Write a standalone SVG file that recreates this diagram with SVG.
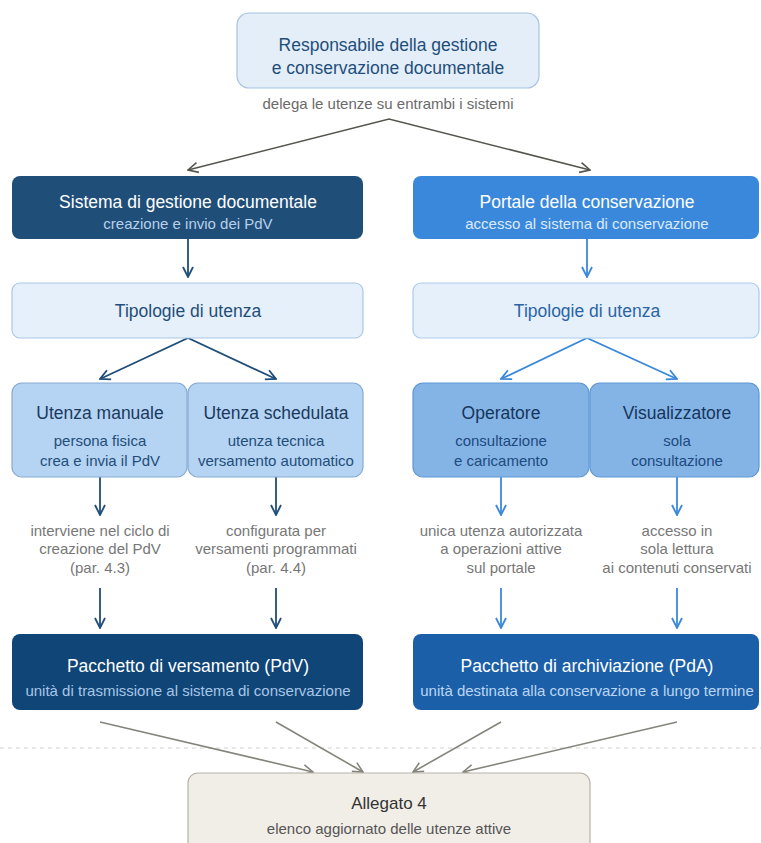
<svg xmlns="http://www.w3.org/2000/svg" width="761" height="843" viewBox="0 0 761 843">
<defs>
<style>
text{font-family:"Liberation Sans",Arial,sans-serif;text-anchor:middle;dominant-baseline:central}
.t16{font-size:17.5px}
.t17{font-size:17.5px}
.s13{font-size:15px}
.s14{font-size:15px}
.note{font-size:15px;fill:#777}
.wh{fill:#ffffff}
</style>
<marker id="aDark" viewBox="0 0 12 12" refX="11" refY="6" markerWidth="12" markerHeight="12" markerUnits="userSpaceOnUse" orient="auto-start-reverse"><path d="M1,1 L11,6 L1,11" fill="none" stroke="#1f4e79" stroke-width="1.8"/></marker>
<marker id="aBlue" viewBox="0 0 12 12" refX="11" refY="6" markerWidth="12" markerHeight="12" markerUnits="userSpaceOnUse" orient="auto-start-reverse"><path d="M1,1 L11,6 L1,11" fill="none" stroke="#3a88db" stroke-width="1.8"/></marker>
<marker id="aGray" viewBox="0 0 12 12" refX="11" refY="6" markerWidth="12" markerHeight="12" markerUnits="userSpaceOnUse" orient="auto-start-reverse"><path d="M1,1 L11,6 L1,11" fill="none" stroke="#55554f" stroke-width="1.6"/></marker>
<marker id="aTan" viewBox="0 0 12 12" refX="11" refY="6" markerWidth="12" markerHeight="12" markerUnits="userSpaceOnUse" orient="auto-start-reverse"><path d="M1,1 L11,6 L1,11" fill="none" stroke="#85847c" stroke-width="1.6"/></marker>
</defs>
<rect width="761" height="843" fill="#ffffff"/>

<line x1="0" y1="748" x2="761" y2="748" stroke="#d2d2d2" stroke-width="1" stroke-dasharray="4,4"/>

<g id="connectors" fill="none">
<polyline points="188,170 389,119 590,170" stroke="#55554f" stroke-width="1.6" marker-start="url(#aGray)" marker-end="url(#aGray)"/>
<line x1="188" y1="239" x2="188" y2="277" stroke="#1f4e79" stroke-width="1.8" marker-end="url(#aDark)"/>
<line x1="587" y1="239" x2="587" y2="277" stroke="#3a88db" stroke-width="1.8" marker-end="url(#aBlue)"/>
<polyline points="100,379 188,338 276,379" stroke="#1f4e79" stroke-width="1.8" marker-start="url(#aDark)" marker-end="url(#aDark)"/>
<polyline points="501,379 587,338 677,379" stroke="#3a88db" stroke-width="1.8" marker-start="url(#aBlue)" marker-end="url(#aBlue)"/>
<line x1="100" y1="477" x2="100" y2="515" stroke="#1f4e79" stroke-width="1.8" marker-end="url(#aDark)"/>
<line x1="276" y1="477" x2="276" y2="515" stroke="#1f4e79" stroke-width="1.8" marker-end="url(#aDark)"/>
<line x1="501" y1="477" x2="501" y2="515" stroke="#3a88db" stroke-width="1.8" marker-end="url(#aBlue)"/>
<line x1="677" y1="477" x2="677" y2="515" stroke="#3a88db" stroke-width="1.8" marker-end="url(#aBlue)"/>
<line x1="100" y1="588" x2="100" y2="628" stroke="#1f4e79" stroke-width="1.8" marker-end="url(#aDark)"/>
<line x1="276" y1="588" x2="276" y2="628" stroke="#1f4e79" stroke-width="1.8" marker-end="url(#aDark)"/>
<line x1="501" y1="588" x2="501" y2="628" stroke="#3a88db" stroke-width="1.8" marker-end="url(#aBlue)"/>
<line x1="677" y1="588" x2="677" y2="628" stroke="#3a88db" stroke-width="1.8" marker-end="url(#aBlue)"/>
<line x1="100" y1="722" x2="313" y2="772" stroke="#85847c" stroke-width="1.6" marker-end="url(#aTan)"/>
<line x1="276" y1="722" x2="363" y2="772" stroke="#85847c" stroke-width="1.6" marker-end="url(#aTan)"/>
<line x1="501" y1="722" x2="413" y2="772" stroke="#85847c" stroke-width="1.6" marker-end="url(#aTan)"/>
<line x1="677" y1="722" x2="463" y2="772" stroke="#85847c" stroke-width="1.6" marker-end="url(#aTan)"/>
</g>

<g id="responsabile">
<rect x="237" y="13" width="302" height="75" rx="12" fill="#e4eef9" stroke="#a6c3e2" stroke-width="1.2"/>
<text x="388" y="45" class="t16" fill="#1f4e79">Responsabile della gestione</text>
<text x="388" y="68" class="t16" fill="#1f4e79">e conservazione documentale</text>
<text x="388" y="103" class="s13" fill="#6a6a6a">delega le utenze su entrambi i sistemi</text>
</g>

<g id="sistema">
<rect x="12" y="176" width="351" height="63" rx="8" fill="#1f4e79"/>
<text x="188" y="202" class="t16 wh">Sistema di gestione documentale</text>
<text x="188" y="223" class="s13" fill="#b8d0ea">creazione e invio dei PdV</text>
</g>

<g id="portale">
<rect x="413" y="176" width="346" height="63" rx="8" fill="#3a88db"/>
<text x="587" y="202" class="t16 wh">Portale della conservazione</text>
<text x="587" y="223" class="s13" fill="#dce9f8">accesso al sistema di conservazione</text>
</g>

<g id="tipologie-sx">
<rect x="12" y="283" width="351" height="55" rx="8" fill="#e6f0fa" stroke="#a9c7e7" stroke-width="1.2"/>
<text x="188" y="311" class="t16" fill="#1f4e79">Tipologie di utenza</text>
</g>

<g id="tipologie-dx">
<rect x="413" y="283" width="346" height="55" rx="8" fill="#e6f0fb" stroke="#a9cbee" stroke-width="1.2"/>
<text x="587" y="311" class="t16" fill="#2a64a6">Tipologie di utenza</text>
</g>

<g id="utenza-manuale">
<rect x="12" y="383" width="175" height="94" rx="10" fill="#b5d3f2" stroke="#86abd3" stroke-width="1.2"/>
<text x="100" y="413" class="t17" fill="#1a3a60">Utenza manuale</text>
<text x="100" y="440" class="s14" fill="#1f4e79">persona fisica</text>
<text x="100" y="460" class="s14" fill="#1f4e79">crea e invia il PdV</text>
</g>

<g id="utenza-schedulata">
<rect x="188" y="383" width="175" height="94" rx="10" fill="#b5d3f2" stroke="#86abd3" stroke-width="1.2"/>
<text x="276" y="413" class="t17" fill="#1a3a60">Utenza schedulata</text>
<text x="276" y="440" class="s14" fill="#1f4e79">utenza tecnica</text>
<text x="276" y="460" class="s14" fill="#1f4e79">versamento automatico</text>
</g>

<g id="operatore">
<rect x="413" y="383" width="176" height="94" rx="10" fill="#84b4e6" stroke="#5e97d4" stroke-width="1.2"/>
<text x="501" y="413" class="t17" fill="#16355c">Operatore</text>
<text x="501" y="440" class="s14" fill="#1e4a7e">consultazione</text>
<text x="501" y="460" class="s14" fill="#1e4a7e">e caricamento</text>
</g>

<g id="visualizzatore">
<rect x="590" y="383" width="169" height="94" rx="10" fill="#84b4e6" stroke="#5e97d4" stroke-width="1.2"/>
<text x="677" y="413" class="t17" fill="#16355c">Visualizzatore</text>
<text x="677" y="440" class="s14" fill="#1e4a7e">sola</text>
<text x="677" y="460" class="s14" fill="#1e4a7e">consultazione</text>
</g>

<g id="nota-manuale">
<text x="100" y="530" class="note">interviene nel ciclo di</text>
<text x="100" y="548" class="note">creazione del PdV</text>
<text x="100" y="567" class="note">(par. 4.3)</text>
</g>
<g id="nota-schedulata">
<text x="276" y="530" class="note">configurata per</text>
<text x="276" y="548" class="note">versamenti programmati</text>
<text x="276" y="567" class="note">(par. 4.4)</text>
</g>
<g id="nota-operatore">
<text x="501" y="530" class="note">unica utenza autorizzata</text>
<text x="501" y="548" class="note">a operazioni attive</text>
<text x="501" y="567" class="note">sul portale</text>
</g>
<g id="nota-visualizzatore">
<text x="677" y="530" class="note">accesso in</text>
<text x="677" y="548" class="note">sola lettura</text>
<text x="677" y="567" class="note">ai contenuti conservati</text>
</g>

<g id="pdv">
<rect x="12" y="634" width="351" height="76" rx="8" fill="#0f4577"/>
<text x="188" y="666" class="t17 wh">Pacchetto di versamento (PdV)</text>
<text x="188" y="690" class="s13" fill="#a8c6e6">unità di trasmissione al sistema di conservazione</text>
</g>

<g id="pda">
<rect x="413" y="634" width="346" height="76" rx="8" fill="#1b5fa8"/>
<text x="587" y="666" class="t17 wh">Pacchetto di archiviazione (PdA)</text>
<text x="587" y="690" class="s13" fill="#bcd6f2">unità destinata alla conservazione a lungo termine</text>
</g>

<g id="allegato4">
<rect x="188" y="773" width="402" height="90" rx="10" fill="#f1eee8" stroke="#b8b3a8" stroke-width="1.2"/>
<text x="389" y="803" style="font-size:17px" fill="#333333">Allegato 4</text>
<text x="389" y="828" class="s13" fill="#555555">elenco aggiornato delle utenze attive</text>
</g>
</svg>
